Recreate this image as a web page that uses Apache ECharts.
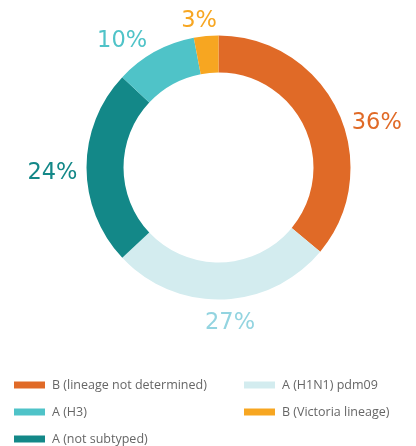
<!DOCTYPE html>
<html>
<head>
<meta charset="utf-8">
<script src="https://cdn.jsdelivr.net/npm/echarts@6/dist/echarts.min.js"></script>
<style>html,body{margin:0;padding:0;background:#fff;}#c{width:416px;height:446px;}</style>
</head>
<body>
<div id="c"></div>
<script>
var categories = ['B (lineage not determined)', 'A (H1N1) pdm09', 'A (not subtyped)', 'A (H3)', 'B (Victoria lineage)'];
var values = [36, 27, 24, 10, 3];
var colors = ['#E06A27', '#D3ECEF', '#138888', '#4FC3C8', '#F7A621'];
var labelColors = ['#E06A27', '#93D4E0', '#138888', '#4FC3C8', '#F7A621'];
var legendLeft = ['B (lineage not determined)', 'A (H3)', 'A (not subtyped)'];
var legendRight = ['A (H1N1) pdm09', 'B (Victoria lineage)'];

var labelNudge = [[-2, 17], [-23, 12], [8, 6], [3, 0], [17, -3]];

var chart = echarts.init(document.getElementById('c'));
var data = categories.map(function (n, i) {
  return {
    name: n, value: values[i],
    itemStyle: { color: colors[i] },
    label: { color: labelColors[i] }
  };
});
var legendCommon = {
  orient: 'vertical', icon: 'rect', itemWidth: 31, itemHeight: 7, itemGap: 13,
  height: 120,
  textStyle: { fontFamily: 'Open Sans', fontSize: 12.5, color: '#666', lineHeight: 14, padding: [0, 0, 0, 2] }
};
chart.setOption({
  animation: false,
  legend: [
    Object.assign({ left: 9, top: 373, data: legendLeft }, legendCommon),
    Object.assign({ left: 239, top: 373, data: legendRight }, legendCommon)
  ],
  series: [{
    type: 'pie',
    center: [218.5, 167.5],
    radius: [95, 132],
    startAngle: 90,
    clockwise: true,
    avoidLabelOverlap: false,
    data: data,
    label: {
      show: true, position: 'outside',
      formatter: '{c}%',
      fontFamily: 'DejaVu Sans', fontSize: 22.5
    },
    labelLine: { show: false, length: 12, length2: 0 },
    labelLayout: function (p) {
      var n = labelNudge[p.dataIndex];
      return { dx: n[0], dy: n[1] };
    },
    emphasis: { disabled: true }
  }]
});
</script>
</body>
</html>
